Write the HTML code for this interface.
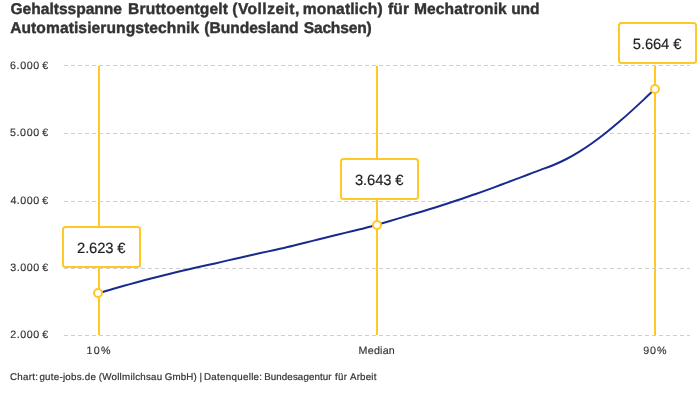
<!DOCTYPE html>
<html lang="de"><head><meta charset="utf-8"><title>Gehaltsspanne Bruttoentgelt</title>
<style>
html,body{margin:0;padding:0;background:#fff;}
body{width:700px;height:400px;overflow:hidden;position:relative;}
svg{position:absolute;left:0;top:0;display:block;}
svg text{font-family:"Liberation Sans",sans-serif;fill:#333333;white-space:pre;text-rendering:geometricPrecision;}
.tt text{font-size:15.6px;font-weight:bold;stroke:#333333;stroke-width:0.4px;}
.yl text,.xl text{font-size:10.7px;}
.bt text{font-size:14.8px;fill:#222;stroke:#222;stroke-width:0.15px;}
.ft text{font-size:9.75px;stroke:#333333;stroke-width:0.2px;}
.yl text,.xl text{stroke:#333333;stroke-width:0.15px;}
</style></head><body>
<svg width="700" height="400" viewBox="0 0 700 400" role="img" aria-label="Gehaltsspanne Bruttoentgelt">
<g class="tt"><text><tspan x="10.51" y="14.45" letter-spacing="-0.024">Gehaltsspanne</tspan> <tspan x="128.09" y="14.45" letter-spacing="0.172">Bruttoentgelt</tspan> <tspan x="232.25" y="14.45" letter-spacing="0.453">(Vollzeit,</tspan> <tspan x="302.86" y="14.45" letter-spacing="0.107">monatlich)</tspan> <tspan x="388.06" y="14.45" letter-spacing="0.099">für</tspan> <tspan x="414.00" y="14.45" letter-spacing="0.093">Mechatronik</tspan> <tspan x="511.16" y="14.45" letter-spacing="-0.153">und</tspan> <tspan x="10.14" y="33.45" letter-spacing="0.085">Automatisierungstechnik</tspan> <tspan x="204.30" y="33.45" letter-spacing="-0.025">(Bundesland</tspan> <tspan x="303.74" y="33.45" letter-spacing="-0.202">Sachsen)</tspan></text></g>
<g class="vl" stroke="#ffc824" stroke-width="2" fill="none" shape-rendering="crispEdges"><line x1="99" x2="99" y1="66" y2="335"/><line x1="377" x2="377" y1="66" y2="335"/><line x1="655" x2="655" y1="66" y2="335"/></g>
<g class="yl"><text><tspan x="10.05" y="68.6" letter-spacing="0.609">6.000</tspan> <tspan x="42.19" y="68.6">€</tspan></text><text><tspan x="9.91" y="135.8" letter-spacing="0.642">5.000</tspan> <tspan x="42.19" y="135.8">€</tspan></text><text><tspan x="10.42" y="203.8" letter-spacing="0.515">4.000</tspan> <tspan x="42.19" y="203.8">€</tspan></text><text><tspan x="10.20" y="270.8" letter-spacing="0.57">3.000</tspan> <tspan x="42.19" y="270.8">€</tspan></text><text><tspan x="10.16" y="337.8" letter-spacing="0.58">2.000</tspan> <tspan x="42.19" y="337.8">€</tspan></text></g>
<g class="grid" stroke="#cfcfcf" stroke-width="1" stroke-dasharray="4,3" shape-rendering="crispEdges" fill="none"><line x1="64" x2="690" y1="65.5" y2="65.5"/><line x1="64" x2="690" y1="133.5" y2="133.5"/><line x1="64" x2="690" y1="201.5" y2="201.5"/><line x1="64" x2="690" y1="268.5" y2="268.5"/><line x1="64" x2="690" y1="335.5" y2="335.5"/></g>
<path d="M98.0,293.50C102.3,292.16 106.7,290.86 111.0,289.58C115.3,288.30 119.7,287.06 124.0,285.83C128.3,284.61 132.7,283.41 137.0,282.24C141.3,281.07 145.7,279.91 150.0,278.77C154.3,277.63 158.7,276.51 163.0,275.42C167.3,274.33 171.7,273.28 176.0,272.24C180.3,271.20 184.7,270.17 189.0,269.17C193.3,268.18 197.7,267.22 202.0,266.27C206.3,265.33 210.7,264.40 215.0,263.42C219.3,262.44 223.7,261.40 228.0,260.39C232.3,259.38 236.7,258.40 241.0,257.43C245.3,256.45 249.7,255.48 254.0,254.52C258.3,253.55 262.7,252.59 267.0,251.63C271.3,250.67 275.7,249.72 280.0,248.74C284.3,247.76 288.7,246.75 293.0,245.70C297.3,244.66 301.7,243.58 306.0,242.50C310.3,241.42 314.7,240.33 319.0,239.24C323.3,238.15 327.7,237.06 332.0,236.00C336.3,234.94 340.7,233.91 345.0,232.87C349.3,231.83 353.7,230.78 358.0,229.71C362.3,228.64 366.7,227.55 371.0,226.41C375.3,225.26 379.7,224.07 384.0,222.80C388.3,221.53 392.7,220.19 397.0,218.88C401.3,217.58 405.7,216.32 410.0,215.07C414.3,213.81 418.7,212.56 423.0,211.26C427.3,209.96 431.7,208.61 436.0,207.23C440.3,205.85 444.7,204.44 449.0,203.02C453.3,201.59 457.7,200.14 462.0,198.69C466.3,197.24 470.7,195.79 475.0,194.28C479.3,192.78 483.7,191.20 488.0,189.61C492.3,188.02 496.7,186.40 501.0,184.78C505.3,183.15 509.7,181.52 514.0,179.89C518.3,178.26 522.7,176.64 527.0,174.99C531.3,173.35 535.7,171.69 540.0,170.09C544.3,168.49 548.7,166.97 553.0,165.21C557.3,163.46 561.7,161.47 566.0,159.24C570.3,157.01 574.7,154.54 579.0,151.87C583.3,149.20 587.7,146.33 592.0,143.26C596.3,140.20 600.7,136.94 605.0,133.52C609.3,130.10 613.7,126.53 618.0,122.83C622.3,119.13 626.7,115.30 631.0,111.38C635.3,107.46 639.7,103.44 644.0,99.36C647.7,95.91 651.3,92.42 655.0,88.90" fill="none" stroke="#182a8e" stroke-width="2" stroke-linecap="round" stroke-linejoin="round"/>
<g class="bx" stroke="#ffc824" stroke-width="2" fill="#fff"><rect x="63" y="227" width="77" height="40" rx="2.5" ry="2.5"/><rect x="341" y="159" width="77" height="40" rx="2.5" ry="2.5"/><rect x="619" y="23" width="77" height="40" rx="2.5" ry="2.5"/></g>
<g class="bt"><text><tspan x="77.10" y="252.7" letter-spacing="-0.159">2.623</tspan> <tspan x="117.30" y="252.7">€</tspan></text><text><tspan x="354.93" y="184.7" letter-spacing="-0.117">3.643</tspan> <tspan x="395.31" y="184.7">€</tspan></text><text><tspan x="632.83" y="48.7" letter-spacing="-0.139">5.664</tspan> <tspan x="673.30" y="48.7">€</tspan></text></g>
<g class="pt" stroke="#ffc824" stroke-width="2" fill="#fff"><circle cx="98" cy="293" r="4"/><circle cx="377" cy="225" r="4"/><circle cx="655" cy="89" r="4"/></g>
<g class="xl"><text><tspan x="86.46" y="353.8" letter-spacing="1.302">10%</tspan></text><text><tspan x="358.62" y="353.8" letter-spacing="0.223">Median</tspan></text><text><tspan x="643.14" y="353.8" letter-spacing="1.02">90%</tspan></text></g>
<g class="ft"><text><tspan x="10.05" y="379.7" letter-spacing="0.28">Chart:</tspan> <tspan x="39.45" y="379.7" letter-spacing="0.252">gute-jobs.de</tspan> <tspan x="98.81" y="379.7" letter-spacing="0.239">(Wollmilchsau</tspan> <tspan x="164.78" y="379.7" letter-spacing="0.128">GmbH)</tspan> <tspan x="199.45" y="379.7">|</tspan> <tspan x="203.91" y="379.7" letter-spacing="0.31">Datenquelle:</tspan> <tspan x="264.19" y="379.7" letter-spacing="0.102">Bundesagentur</tspan> <tspan x="335.07" y="379.7" letter-spacing="0.318">für</tspan> <tspan x="349.99" y="379.7" letter-spacing="0.184">Arbeit</tspan></text></g>
</svg>
</body></html>
